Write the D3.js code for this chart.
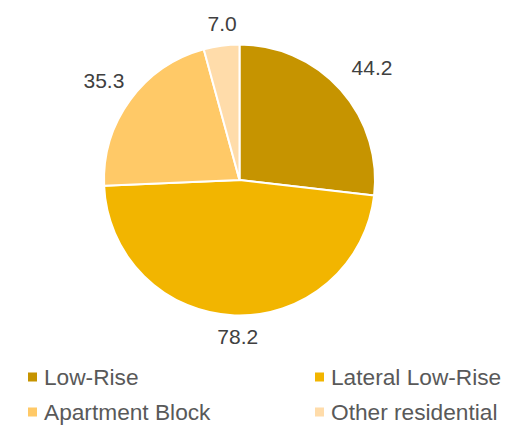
<!DOCTYPE html>
<html><head><meta charset="utf-8">
<script src="https://cdn.jsdelivr.net/npm/d3@7"></script>
<style>body{margin:0;background:#fff}svg{display:block}</style>
</head><body>
<script>
const categories = ["Low-Rise", "Lateral Low-Rise", "Apartment Block", "Other residential"];
const values = [44.2, 78.2, 35.3, 7.0];
const labels = ["44.2", "78.2", "35.3", "7.0"];
const colors = ["#C69400", "#F2B500", "#FFC967", "#FFDCAA"];

const W = 505, H = 426;
const cx = 239.5, cy = 180, R = 135.5;
const svg = d3.select("body").append("svg").attr("width", W).attr("height", H);
const font = "Liberation Sans, Arial, sans-serif";

const data = categories.map((c, i) => ({cat: c, v: values[i], label: labels[i], color: colors[i]}));
const pie = d3.pie().sort(null).value(d => d.v);
const arcs = pie(data);
const arc = d3.arc().innerRadius(0).outerRadius(R);

const g = svg.append("g").attr("transform", `translate(${cx},${cy})`);
g.selectAll("path").data(arcs).join("path")
  .attr("d", arc).attr("fill", d => d.data.color)
  .attr("stroke", "#fff").attr("stroke-width", 2).attr("stroke-linejoin", "round");

// labels outside end
const fs = 21, gap = 13;
arcs.forEach(a => {
  const t = g.append("text").text(a.data.label)
    .attr("font-family", font).attr("font-size", fs).attr("fill", "#404040")
    .attr("text-anchor", "middle");
  const w = t.node().getComputedTextLength(), h = fs * 0.716;
  const m = (a.startAngle + a.endAngle) / 2;
  const s = Math.sin(m), c = Math.cos(m);
  const ext = Math.abs(s) * w / 2 + Math.abs(c) * h / 2;
  const d = R + gap + ext;
  const x = s * d * 1.02 + 4, y = -c * d;
  t.attr("x", x).attr("y", y + h / 2);
});

// legend
const lg = svg.append("g");
const colX = [28, 315], rowY = [377, 412];
data.forEach((d, i) => {
  const x = colX[i % 2], y = rowY[Math.floor(i / 2)];
  lg.append("rect").attr("x", x).attr("y", y - 4.5).attr("width", 9).attr("height", 9).attr("fill", d.color);
  lg.append("text").attr("x", x + 16).attr("y", y + 8)
    .attr("font-family", font).attr("font-size", 22.7).attr("fill", "#595959").text(d.cat);
});
</script>
</body></html>
